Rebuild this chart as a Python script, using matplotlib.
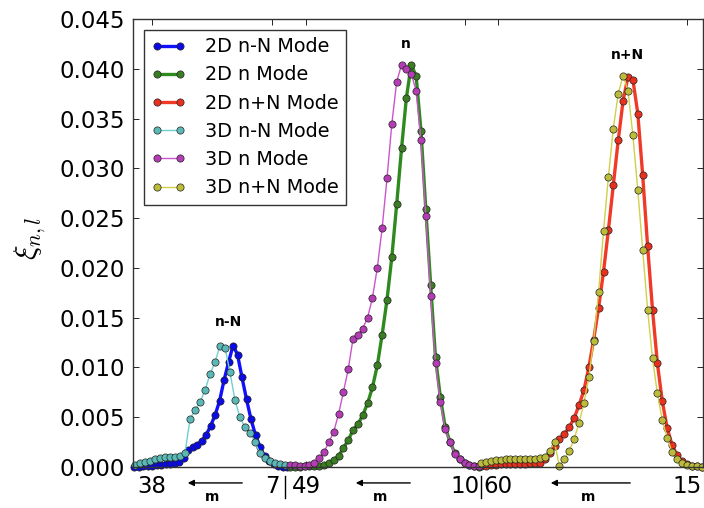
import numpy as np
import matplotlib
matplotlib.use("Agg")
import matplotlib.pyplot as plt
from matplotlib.ticker import FormatStrFormatter

plt.rcParams['mathtext.fontset'] = 'cm'

# x positions are a running sample index along the three mode groups
x_blue = np.arange(35) * 0.9 + 0.2
x_cyan = np.arange(31) * 1.0 + 0.4
x_mid = np.arange(40) * 0.97 + 31.4
x_high = np.arange(46) * 0.98 + 69.6

y_2d_low = [0.0000, 0.0000, 0.0001, 0.0001, 0.0001, 0.0002, 0.0002, 0.0003, 0.0003,
            0.0004, 0.0005, 0.0009, 0.0017, 0.0020, 0.0022, 0.0026, 0.0032, 0.0041,
            0.0052, 0.0066, 0.0087, 0.0105, 0.0122, 0.0113, 0.0090, 0.0068, 0.0048,
            0.0032, 0.0020, 0.0011, 0.0006, 0.0003, 0.0001, 0.0000, 0.0000]
y_3d_low = [0.0002, 0.0004, 0.0005, 0.0006, 0.0008, 0.0009, 0.0010, 0.0010, 0.0010,
            0.0011, 0.0014, 0.0048, 0.0057, 0.0065, 0.0077, 0.0093, 0.0105, 0.0122,
            0.0120, 0.0095, 0.0067, 0.0050, 0.0040, 0.0034, 0.0025, 0.0014, 0.0009,
            0.0006, 0.0004, 0.0003, 0.0002]
y_2d_mid = [0.0000, 0.0000, 0.0000, 0.0001, 0.0001, 0.0001, 0.0001, 0.0002, 0.0004,
            0.0007, 0.0011, 0.0019, 0.0027, 0.0037, 0.0043, 0.0052, 0.0064, 0.0080,
            0.0102, 0.0133, 0.0168, 0.0211, 0.0264, 0.0320, 0.0371, 0.0404, 0.0393,
            0.0338, 0.0259, 0.0183, 0.0110, 0.0070, 0.0040, 0.0025, 0.0014, 0.0008,
            0.0004, 0.0002, 0.0001, 0.0000]
y_3d_mid = [0.0002, 0.0002, 0.0001, 0.0001, 0.0002, 0.0004, 0.0009, 0.0015, 0.0025,
            0.0035, 0.0053, 0.0075, 0.0098, 0.0129, 0.0133, 0.0139, 0.0150, 0.0170,
            0.0200, 0.0240, 0.0290, 0.0345, 0.0387, 0.0404, 0.0400, 0.0395, 0.0378,
            0.0328, 0.0252, 0.0172, 0.0104, 0.0065, 0.0038, 0.0025, 0.0013, 0.0008,
            0.0004, 0.0002, 0.0001, 0.0001]
y_2d_high = [0.0001, 0.0001, 0.0002, 0.0002, 0.0003, 0.0003, 0.0003, 0.0003, 0.0003,
             0.0003, 0.0004, 0.0004, 0.0004, 0.0008, 0.0014, 0.0021, 0.0028, 0.0033,
             0.0040, 0.0049, 0.0062, 0.0077, 0.0100, 0.0128, 0.0160, 0.0196, 0.0238,
             0.0283, 0.0328, 0.0368, 0.0392, 0.0389, 0.0355, 0.0293, 0.0222, 0.0158,
             0.0104, 0.0066, 0.0039, 0.0022, 0.0012, 0.0006, 0.0003, 0.0001, 0.0001,
             0.0000]
y_3d_high = [0.0004, 0.0005, 0.0006, 0.0007, 0.0007, 0.0008, 0.0008, 0.0008, 0.0008,
             0.0008, 0.0008, 0.0008, 0.0009, 0.0010, 0.0016, 0.0025, 0.0001, 0.0008,
             0.0016, 0.0028, 0.0044, 0.0064, 0.0090, 0.0127, 0.0176, 0.0237, 0.0291,
             0.0340, 0.0375, 0.0393, 0.0378, 0.0333, 0.0278, 0.0218, 0.0158, 0.0109,
             0.0074, 0.0047, 0.0029, 0.0015, 0.0008, 0.0004, 0.0002, 0.0001, 0.0001,
             0.0000]

labels = ['2D n-N Mode', '2D n Mode', '2D n+N Mode',
          '3D n-N Mode', '3D n Mode', '3D n+N Mode']
tick_pos = [3.8, 27.8, 34.6, 66.4, 73.0, 110.8]
tick_lab = ['38', '7', '49', '10', '60', '15']
split_pos = [30.4, 69.6]

fig = plt.figure(figsize=(7.04, 5.08), dpi=100)
ax = fig.add_axes([133/704, 41/508, 570/704, 448/508])

line_cols = ['#1010ff', '#2e8a1e', '#f03a28', '#6fd0d0', '#cc55cc', '#d0d04a']
face_cols = ['#0a0ae6', '#3a7d22', '#e8301e', '#5ab9b6', '#b43cb4', '#bcbc3a']
xs = [x_blue, x_mid, x_high, x_cyan, x_mid, x_high]
ys = [y_2d_low, y_2d_mid, y_2d_high, y_3d_low, y_3d_mid, y_3d_high]
for i in range(6):
    lw = 2.4 if i < 3 else 1.0
    ax.plot(xs[i], ys[i], '-o', color=line_cols[i], mfc=face_cols[i], lw=lw,
            ms=5.2, mec='#222222', mew=0.5, label=labels[i], clip_on=False)

ax.set_xlim(0, 114)
ax.set_ylim(0, 0.045)
ax.set_yticks(np.arange(0, 0.0451, 0.005))
ax.yaxis.set_major_formatter(FormatStrFormatter('%.3f'))
ax.set_xticks(tick_pos)
ax.set_xticklabels(tick_lab)
ax.tick_params(direction='in', top=True, right=True, length=4, width=0.6,
               labelsize=16.5, pad=6)
for s in ax.spines.values():
    s.set_linewidth(1.0)
    s.set_color('#333333')
# separators between the groups in the tick row
for xp in split_pos:
    ax.plot([xp, xp], [-0.0009, -0.0031], color='k', lw=1.0, clip_on=False)

ax.set_ylabel(r'$\xi_{n,l}$', fontsize=22)
ax.yaxis.set_label_coords(-0.15, 0.51)

# peak names
ax.text(19.2, 0.0146, 'n-N', ha='center', va='center', fontsize=10, fontweight='bold')
ax.text(54.6, 0.0425, 'n', ha='center', va='center', fontsize=10, fontweight='bold')
ax.text(98.8, 0.0414, 'n+N', ha='center', va='center', fontsize=10, fontweight='bold')

# direction of m under each group
for x0, x1 in [(22.4, 10.4), (56.0, 44.0), (100.0, 83.0)]:
    ax.annotate('', xy=(x1, -0.0016), xytext=(x0, -0.0016),
                arrowprops=dict(arrowstyle='-|>', lw=1, color='k', mutation_scale=9),
                annotation_clip=False)
    ax.text((x0 + x1) / 2 - 0.5, -0.003, 'm', ha='center', va='center',
            fontsize=10, fontweight='bold', clip_on=False)

leg = ax.legend(loc='upper left', numpoints=2, fontsize=13.8, handlelength=1.8,
                handletextpad=1.0, labelspacing=0.48, borderaxespad=0.55,
                fancybox=False)
leg.get_frame().set_edgecolor('k')
leg.get_frame().set_linewidth(1.0)

fig.savefig('out.png', dpi=100)
